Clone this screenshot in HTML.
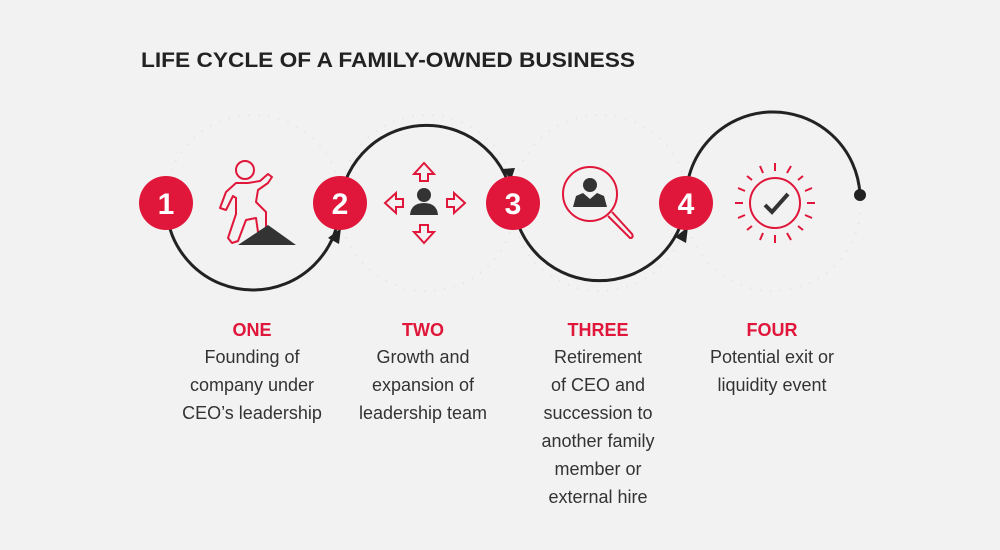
<!DOCTYPE html>
<html><head><meta charset="utf-8"><style>
html,body{margin:0;padding:0;background:#f2f2f2;}
svg{display:block;font-family:"Liberation Sans",sans-serif;}
</style></head><body>
<svg width="1000" height="550" viewBox="0 0 1000 550" xmlns="http://www.w3.org/2000/svg">
<rect width="1000" height="550" fill="#f2f2f2"/>
<text x="141" y="67" font-size="21" font-weight="bold" fill="#222" textLength="494" lengthAdjust="spacingAndGlyphs">LIFE CYCLE OF A FAMILY-OWNED BUSINESS</text>
<g fill="none" stroke="#e2e2e2" stroke-width="2" stroke-dasharray="1 9">
<circle cx="253" cy="203" r="88"/><circle cx="427" cy="203" r="88"/><circle cx="600" cy="203" r="88"/><circle cx="773" cy="203" r="88"/>
</g>
<g fill="none" stroke="#222" stroke-width="3">
<path d="M166 203 A87 87 0 0 0 340 203"/>
<path d="M340 203 A87 87 0 0 1 513 203"/>
<path d="M513 203 A87 87 0 0 0 686 203"/>
<path d="M686 203 A87 87 0 0 1 860 195"/>
</g>
<circle cx="860" cy="195" r="6" fill="#222"/>
<g fill="#222">
<polygon points="328,238 341,228 339,244"/>
<polygon points="502,169 515,168 511,180"/>
<polygon points="675,237 688,227 686,243"/>
</g>
<g fill="#e0173a">
<circle cx="166" cy="203" r="27"/><circle cx="340" cy="203" r="27"/><circle cx="513" cy="203" r="27"/><circle cx="686" cy="203" r="27"/>
</g>
<g fill="#fff" font-size="30" font-weight="bold" text-anchor="middle">
<text x="166" y="214">1</text><text x="340" y="214">2</text><text x="513" y="214">3</text><text x="686" y="214">4</text>
</g>
<!-- icon 1 -->
<g fill="none" stroke="#e0173a" stroke-width="2" stroke-linejoin="round">
<circle cx="245" cy="170" r="9"/>
<path d="M236 183 L226 192 L220 208 L226 210 L233 196 L236 198 L236 214 L228 238 L232 243 L238 241 L246 220 L256 218 L258 232 L266 230 L266 212 L256 202 L258 190 L268 183 L272 177 L268 174 L260 181 L248 183 Z"/>
</g>
<polygon points="238,245 296,245 268,225" fill="#333"/>
<!-- icon 2 -->
<g fill="#333"><circle cx="424" cy="195" r="7"/><path d="M410 215 Q411 203 424 203 Q437 203 438 215 Z"/></g>
<g fill="none" stroke="#e0173a" stroke-width="2">
<path d="M424 163 L414 174 L420 174 L420 181 L428 181 L428 174 L434 174 Z"/>
<path d="M424 243 L414 232 L420 232 L420 225 L428 225 L428 232 L434 232 Z"/>
<path d="M385 203 L396 193 L396 199 L403 199 L403 207 L396 207 L396 213 Z"/>
<path d="M465 203 L454 193 L454 199 L447 199 L447 207 L454 207 L454 213 Z"/>
</g>
<!-- icon 3 -->
<circle cx="590" cy="194" r="27" fill="none" stroke="#e0173a" stroke-width="2"/>
<path d="M612 212 L632 234 Q634 238 630 238 L608 216" fill="none" stroke="#e0173a" stroke-width="2"/>
<g fill="#333"><circle cx="590" cy="185" r="7"/><path d="M573 207 L576 196 L583 193 L590 199 L597 193 L604 196 L607 207 Z"/></g>
<!-- icon 4 -->
<circle cx="775" cy="203" r="25" fill="none" stroke="#e0173a" stroke-width="2"/>
<path d="M765 205 L772 212 L788 194" fill="none" stroke="#333" stroke-width="4"/>
<g stroke="#e0173a" stroke-width="2">
<line x1="775" y1="171" x2="775" y2="163"/><line x1="775" y1="235" x2="775" y2="243"/>
<line x1="743" y1="203" x2="735" y2="203"/><line x1="807" y1="203" x2="815" y2="203"/>
<line x1="763" y1="173" x2="760" y2="166"/><line x1="787" y1="173" x2="791" y2="166"/>
<line x1="763" y1="233" x2="760" y2="240"/><line x1="787" y1="233" x2="791" y2="240"/>
<line x1="745" y1="191" x2="738" y2="188"/><line x1="805" y1="191" x2="812" y2="188"/>
<line x1="745" y1="215" x2="738" y2="218"/><line x1="805" y1="215" x2="812" y2="218"/>
<line x1="752" y1="180" x2="747" y2="176"/><line x1="798" y1="180" x2="803" y2="176"/>
<line x1="752" y1="226" x2="747" y2="230"/><line x1="798" y1="226" x2="803" y2="230"/>
</g>
<g font-size="18" text-anchor="middle" fill="#333">
<g font-weight="bold" fill="#e0173a">
<text x="252" y="336">ONE</text><text x="423" y="336">TWO</text><text x="598" y="336">THREE</text><text x="772" y="336">FOUR</text>
</g>
<text x="252" y="363">Founding of</text><text x="252" y="391">company under</text><text x="252" y="419">CEO’s leadership</text>
<text x="423" y="363">Growth and</text><text x="423" y="391">expansion of</text><text x="423" y="419">leadership team</text>
<text x="598" y="363">Retirement</text><text x="598" y="391">of CEO and</text><text x="598" y="419">succession to</text><text x="598" y="447">another family</text><text x="598" y="475">member or</text><text x="598" y="503">external hire</text>
<text x="772" y="363">Potential exit or</text><text x="772" y="391">liquidity event</text>
</g>
</svg>
</body></html>
